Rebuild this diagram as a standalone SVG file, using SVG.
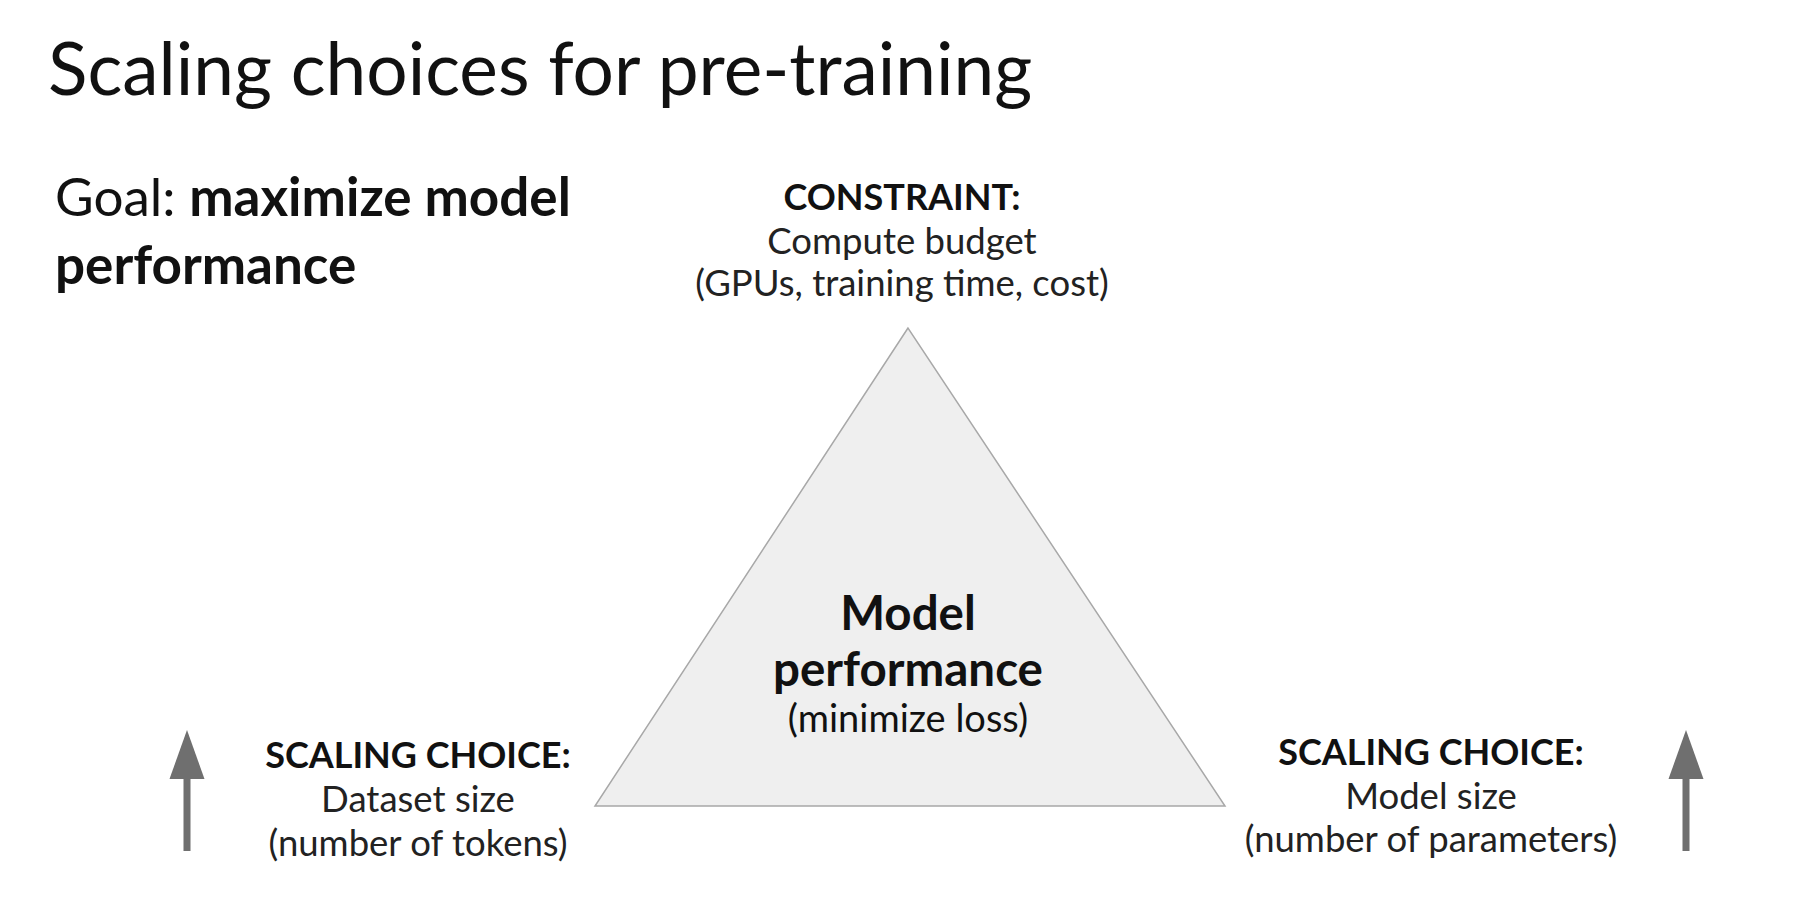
<svg xmlns="http://www.w3.org/2000/svg" width="1812" height="910" viewBox="0 0 1812 910">
<style>
text{font-family:Lato,"Open Sans","Liberation Sans",sans-serif;fill:#111}
.b{font-weight:bold}
.c{text-anchor:middle}
.lbl{font-size:36.5px;fill:#222}
.hd{font-size:36px;font-weight:bold}
</style>
<rect width="1812" height="910" fill="#fff"/>
<text x="48" y="95" font-size="73">Scaling choices for pre-training</text>
<g id="goal">
<text x="55" y="216" font-size="53">Goal: <tspan class="b">maximize model</tspan></text>
<text x="55" y="284" font-size="53" class="b">performance</text>
</g>
<g id="triangle">
<polygon points="908,328 595,806 1225,806" fill="#efefef" stroke="#a8a8a8" stroke-width="1.5"/>
<text x="908" y="630" class="c b" font-size="47.5">Model</text>
<text x="908" y="686" class="c b" font-size="47.5">performance</text>
<text x="908" y="732" class="c" font-size="38" fill="#222">(minimize loss)</text>
</g>
<g id="constraint">
<text x="902" y="210" class="c hd">CONSTRAINT:</text>
<text x="902" y="254" class="c lbl">Compute budget</text>
<text x="902" y="296" class="c lbl">(GPUs, training time, cost)</text>
</g>
<g id="dataset">
<text x="418" y="768" class="c hd">SCALING CHOICE:</text>
<text x="418" y="812" class="c lbl">Dataset size</text>
<text x="418" y="856" class="c lbl">(number of tokens)</text>
</g>
<g id="modelsize">
<text x="1431" y="765" class="c hd">SCALING CHOICE:</text>
<text x="1431" y="809" class="c lbl">Model size</text>
<text x="1431" y="852" class="c lbl">(number of parameters)</text>
</g>
<g id="connectors" fill="#6f6f6f">
<polygon points="187,730 169.5,779 204.5,779"/>
<rect x="183.5" y="778" width="7" height="73"/>
<polygon points="1686,730 1668.5,779 1703.5,779"/>
<rect x="1682.5" y="778" width="7" height="73"/>
</g>
</svg>
